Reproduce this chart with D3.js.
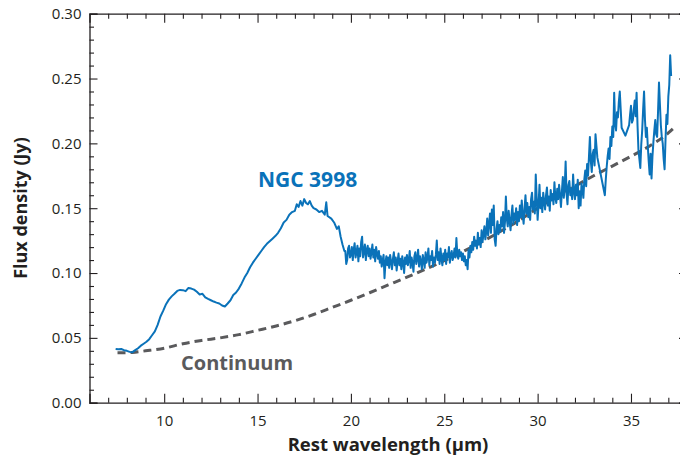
<!DOCTYPE html>
<html>
<head>
<meta charset="utf-8">
<script src="https://cdn.jsdelivr.net/npm/d3@7"></script>
<style>
  body { margin: 0; background: #fff; }
  svg { display: block; font-family: "Open Sans", sans-serif; }
</style>
</head>
<body>
<svg></svg>
<script>
// spectrum of NGC 3998 (wavelength in um, flux in Jy)
let specWl = [
  7.40, 7.55, 7.70, 7.85, 8.00, 8.15, 8.30, 8.45, 8.60, 8.75, 8.90, 9.05, 9.20, 9.35, 9.50, 9.65, 9.80, 9.95,
  10.10, 10.25, 10.40, 10.55, 10.70, 10.85, 11.00, 11.15, 11.30, 11.45, 11.60, 11.75, 11.90, 12.05, 12.20, 12.35,
  12.50, 12.65, 12.80, 12.95, 13.10, 13.25, 13.40, 13.55, 13.70, 13.85, 14.00, 14.15, 14.30, 14.45, 14.60, 14.75,
  14.90, 15.05, 15.20, 15.35, 15.50, 15.65, 15.80, 15.95, 16.10, 16.25, 16.40, 16.55, 16.70, 16.85, 17.00, 17.10,
  17.20, 17.30, 17.40, 17.50, 17.60, 17.70, 17.80, 17.90, 18.00, 18.15, 18.30, 18.45, 18.60, 18.68, 18.75, 18.95,
  19.10, 19.25, 19.35, 19.45, 19.55, 19.65,
  19.70, 19.75, 19.80, 19.85, 19.90, 19.95,
  20.00, 20.05, 20.10, 20.15, 20.20, 20.25, 20.30, 20.35, 20.40, 20.45, 20.50, 20.55, 20.60, 20.65, 20.70, 20.75, 20.80, 20.85, 20.90, 20.95,
  21.00, 21.05, 21.10, 21.15, 21.20, 21.25, 21.30, 21.35, 21.40, 21.45, 21.50, 21.55, 21.60, 21.65, 21.70, 21.75, 21.80, 21.85, 21.90, 21.95,
  22.00, 22.05, 22.10, 22.15, 22.20, 22.25, 22.30, 22.35, 22.40, 22.45, 22.50, 22.55, 22.60, 22.65, 22.70, 22.75, 22.80, 22.85, 22.90, 22.95,
  23.00, 23.05, 23.10, 23.15, 23.20, 23.25, 23.30, 23.35, 23.40, 23.45, 23.50, 23.55, 23.60, 23.65, 23.70, 23.75, 23.80, 23.85, 23.90, 23.95,
  24.00, 24.05, 24.10, 24.15, 24.20, 24.25, 24.30, 24.35, 24.40, 24.45, 24.50, 24.55, 24.60, 24.65, 24.70, 24.75, 24.80, 24.85, 24.90, 24.95,
  25.00, 25.05, 25.10, 25.15, 25.20, 25.25, 25.30, 25.35, 25.40, 25.45, 25.50, 25.55, 25.60, 25.65, 25.70, 25.75, 25.80, 25.85, 25.90, 25.95,
  26.00, 26.05, 26.10, 26.15, 26.20, 26.25, 26.30, 26.35, 26.40, 26.45, 26.50, 26.55, 26.60, 26.65, 26.70, 26.75, 26.80, 26.85, 26.90, 26.95,
  27.00, 27.05, 27.10, 27.15, 27.20, 27.25, 27.30, 27.35, 27.40, 27.45, 27.50, 27.55, 27.60, 27.65, 27.70, 27.75, 27.80, 27.85, 27.90, 27.95,
  28.00, 28.05, 28.10, 28.15, 28.20, 28.25, 28.30, 28.35, 28.40, 28.45, 28.50, 28.55, 28.60, 28.65, 28.70, 28.75, 28.80, 28.85, 28.90, 28.95,
  29.00, 29.05, 29.10, 29.15, 29.20, 29.25, 29.30, 29.35, 29.40, 29.45, 29.50, 29.55, 29.60, 29.65, 29.70, 29.75, 29.80, 29.85, 29.90, 29.95,
  30.00, 30.05, 30.10, 30.15, 30.20, 30.25, 30.30, 30.35, 30.40, 30.45, 30.50, 30.55, 30.60, 30.65, 30.70, 30.75, 30.80, 30.85, 30.90, 30.95,
  31.00, 31.05, 31.10, 31.15, 31.20, 31.25, 31.30, 31.35, 31.40, 31.45, 31.50, 31.55, 31.60, 31.65, 31.70, 31.75, 31.80, 31.85, 31.90, 31.95,
  32.00, 32.05, 32.10, 32.15, 32.20, 32.25, 32.30, 32.35, 32.40, 32.45, 32.50, 32.55, 32.60, 32.65, 32.70, 32.75, 32.80, 32.85, 32.90, 32.95,
  33.00, 33.05, 33.10, 33.15, 33.20,
  33.60, 33.65, 33.70, 33.75, 33.80, 33.85, 33.90, 33.95, 34.00, 34.05, 34.10, 34.15, 34.20, 34.25, 34.30, 34.35, 34.40, 34.45, 34.50, 34.70,
  34.90, 34.95, 35.00, 35.05, 35.10, 35.15, 35.20, 35.25, 35.30, 35.35, 35.40, 35.45, 35.50, 35.55, 35.60, 35.65, 35.70, 35.75, 35.80, 35.85,
  35.90, 35.95, 36.00, 36.05, 36.10, 36.15, 36.20, 36.25, 36.30, 36.35, 36.40, 36.45, 36.50, 36.55, 36.60, 36.65, 36.70, 36.75, 36.80, 36.85,
  36.90, 36.95, 37.00, 37.05, 37.10, 37.15
]
let specFlux = [
  0.0415, 0.0412, 0.0414, 0.0405, 0.0400, 0.0392, 0.0390, 0.0405, 0.0420, 0.0440, 0.0455, 0.0470, 0.0490, 0.0520, 0.0550, 0.0600, 0.0665, 0.0710,
  0.0760, 0.0795, 0.0820, 0.0840, 0.0862, 0.0870, 0.0868, 0.0860, 0.0885, 0.0880, 0.0872, 0.0855, 0.0835, 0.0840, 0.0812, 0.0800,
  0.0790, 0.0780, 0.0772, 0.0765, 0.0750, 0.0742, 0.0765, 0.0790, 0.0830, 0.0850, 0.0880, 0.0920, 0.0965, 0.1000, 0.1045, 0.1080,
  0.1110, 0.1140, 0.1170, 0.1200, 0.1225, 0.1245, 0.1265, 0.1285, 0.1310, 0.1345, 0.1390, 0.1410, 0.1450, 0.1470, 0.1480, 0.1530,
  0.1510, 0.1555, 0.1520, 0.1570, 0.1540, 0.1530, 0.1555, 0.1520, 0.1500, 0.1490, 0.1470, 0.1480, 0.1450, 0.1545, 0.1440, 0.1420,
  0.1390, 0.1340, 0.1360, 0.1280, 0.1220, 0.1170,
  0.117, 0.107, 0.110, 0.119, 0.121, 0.112,
  0.114, 0.120, 0.110, 0.118, 0.123, 0.112, 0.116, 0.121, 0.109, 0.119, 0.113, 0.124, 0.128, 0.112, 0.117, 0.122, 0.110, 0.118, 0.121, 0.113,
  0.119, 0.111, 0.116, 0.122, 0.112, 0.118, 0.109, 0.120, 0.115, 0.111, 0.117, 0.108, 0.113, 0.105, 0.110, 0.114, 0.096, 0.108, 0.113, 0.106,
  0.112, 0.104, 0.114, 0.109, 0.103, 0.111, 0.116, 0.106, 0.112, 0.102, 0.109, 0.115, 0.106, 0.111, 0.103, 0.113, 0.108, 0.100, 0.112, 0.107,
  0.114, 0.106, 0.110, 0.117, 0.104, 0.112, 0.108, 0.101, 0.113, 0.116, 0.107, 0.111, 0.118, 0.105, 0.113, 0.109, 0.103, 0.114, 0.110, 0.104,
  0.116, 0.108, 0.112, 0.119, 0.106, 0.113, 0.110, 0.117, 0.105, 0.112, 0.108, 0.114, 0.125, 0.110, 0.116, 0.107, 0.119, 0.111, 0.106, 0.115,
  0.110, 0.118, 0.107, 0.115, 0.112, 0.120, 0.108, 0.114, 0.117, 0.110, 0.113, 0.119, 0.112, 0.127, 0.114, 0.111, 0.118, 0.113, 0.116, 0.110,
  0.115, 0.109, 0.113, 0.106, 0.110, 0.103, 0.118, 0.112, 0.121, 0.116, 0.124, 0.118, 0.128, 0.121, 0.125, 0.119, 0.131, 0.122, 0.127, 0.120,
  0.133, 0.124, 0.130, 0.136, 0.126, 0.132, 0.142, 0.129, 0.138, 0.146, 0.131, 0.149, 0.137, 0.152, 0.126, 0.121, 0.134, 0.140, 0.130, 0.137,
  0.132, 0.143, 0.136, 0.147, 0.131, 0.139, 0.159, 0.142, 0.136, 0.148, 0.140, 0.133, 0.145, 0.152, 0.138, 0.146, 0.141, 0.150, 0.137, 0.147,
  0.140, 0.152, 0.143, 0.156, 0.145, 0.138, 0.150, 0.160, 0.146, 0.154, 0.143, 0.151, 0.141, 0.157, 0.162, 0.149, 0.155, 0.146, 0.176, 0.158,
  0.141, 0.153, 0.168, 0.150, 0.158, 0.147, 0.162, 0.155, 0.149, 0.160, 0.166, 0.152, 0.159, 0.148, 0.164, 0.156, 0.161, 0.153, 0.170, 0.158,
  0.154, 0.165, 0.157, 0.168, 0.160, 0.151, 0.163, 0.174, 0.158, 0.166, 0.186, 0.161, 0.153, 0.168, 0.171, 0.160, 0.165, 0.157, 0.176, 0.163,
  0.157, 0.168, 0.160, 0.172, 0.150, 0.163, 0.152, 0.169, 0.165, 0.158, 0.172, 0.179, 0.167, 0.184, 0.175, 0.190, 0.205, 0.186, 0.178, 0.192,
  0.195, 0.183, 0.207, 0.198, 0.189,
  0.160, 0.172, 0.182, 0.190, 0.196, 0.188, 0.205, 0.198, 0.213, 0.205, 0.239, 0.215, 0.210, 0.224, 0.220, 0.232, 0.240, 0.226, 0.212, 0.206,
  0.214, 0.222, 0.229, 0.216, 0.218, 0.226, 0.233, 0.221, 0.239, 0.214, 0.195, 0.188, 0.181, 0.199, 0.210, 0.226, 0.240, 0.218, 0.205, 0.212,
  0.198, 0.186, 0.176, 0.192, 0.173, 0.190, 0.201, 0.210, 0.218, 0.207, 0.205, 0.225, 0.247, 0.230, 0.214, 0.205, 0.200, 0.188, 0.180, 0.203,
  0.222, 0.215, 0.236, 0.245, 0.268, 0.252
]

// dashed continuum
let contWl = [7.5, 8.3, 9, 10, 11, 12, 13, 14, 15, 16, 17, 18, 19, 20, 21, 22, 23, 24, 25, 26, 27, 28, 29, 30, 31, 32, 33, 34, 35, 36, 37, 37.3]
let contFlux = [0.0385, 0.0388, 0.0400, 0.0420, 0.0455, 0.0480, 0.0500, 0.0525, 0.0558, 0.0592, 0.0632, 0.0680, 0.0735, 0.0790, 0.0848, 0.0908,
  0.0968, 0.1030, 0.1095, 0.1165, 0.1240, 0.1320, 0.1405, 0.1500, 0.1590, 0.1670, 0.1750, 0.1825, 0.1900, 0.1980, 0.2080, 0.2120]

let xTicks = [10, 15, 20, 25, 30, 35]
let xMinor = [7, 8, 9, 11, 12, 13, 14, 16, 17, 18, 19, 21, 22, 23, 24, 26, 27, 28, 29, 31, 32, 33, 34, 36, 37]
let yTicks = [0, 0.05, 0.10, 0.15, 0.20, 0.25, 0.30]
let yMinor = [0.01, 0.02, 0.03, 0.04, 0.06, 0.07, 0.08, 0.09, 0.11, 0.12, 0.13, 0.14, 0.16, 0.17, 0.18, 0.19,
  0.21, 0.22, 0.23, 0.24, 0.26, 0.27, 0.28, 0.29]

let width = 680
let height = 455
let plotLeft = 89.5
let plotRight = 687
let plotTop = 13.7
let plotBottom = 402.7

let blue = '#0a72b9'
let grey = '#5a5a5c'
let ink = '#231f20'

let svg = d3.select('svg')
  .attr('width', width)
  .attr('height', height)

let xScale = d3.scaleLinear().domain([6, 38]).range([plotLeft, plotRight])
let yScale = d3.scaleLinear().domain([0, 0.30]).range([plotBottom, plotTop])

let drawAxes = () => {
  let g

  // bottom, with labels
  g = svg.append('g').attr('transform', 'translate(0,' + plotBottom + ')')
    .call(d3.axisBottom(xScale).tickValues(xTicks).tickSize(-9).tickPadding(13).tickFormat(d3.format('d')))
  g.append('g')
    .call(d3.axisBottom(xScale).tickValues(xMinor).tickSize(-5).tickFormat(''))
    .select('.domain').remove()

  // top
  g = svg.append('g').attr('transform', 'translate(0,' + plotTop + ')')
    .call(d3.axisTop(xScale).tickValues(xTicks).tickSize(-9).tickFormat(''))
  g.append('g')
    .call(d3.axisTop(xScale).tickValues(xMinor).tickSize(-5).tickFormat(''))
    .select('.domain').remove()

  // left, with labels
  g = svg.append('g').attr('transform', 'translate(' + plotLeft + ',0)')
    .call(d3.axisLeft(yScale).tickValues(yTicks).tickSize(-8).tickPadding(8).tickFormat(d3.format('.2f')))
  g.append('g')
    .call(d3.axisLeft(yScale).tickValues(yMinor).tickSize(-4.5).tickFormat(''))
    .select('.domain').remove()

  // right
  g = svg.append('g').attr('transform', 'translate(' + plotRight + ',0)')
    .call(d3.axisRight(yScale).tickValues(yTicks).tickSize(-8).tickFormat(''))
  g.append('g')
    .call(d3.axisRight(yScale).tickValues(yMinor).tickSize(-4.5).tickFormat(''))
    .select('.domain').remove()

  svg.selectAll('.domain').attr('stroke', ink).attr('stroke-width', 1.3)
  svg.selectAll('.tick line').attr('stroke', ink).attr('stroke-width', 1.1)
  svg.selectAll('.tick text')
    .attr('fill', ink)
    .style('font-family', '"Open Sans", sans-serif')
    .style('font-size', '15px')
}

let drawLines = () => {
  let line = d3.line()
    .x(d => xScale(d[0]))
    .y(d => yScale(d[1]))

  svg.append('path')
    .datum(d3.zip(contWl, contFlux))
    .attr('fill', 'none')
    .attr('stroke', grey)
    .attr('stroke-width', 3)
    .attr('stroke-dasharray', '8,5')
    .attr('d', line.curve(d3.curveMonotoneX))

  svg.append('path')
    .datum(d3.zip(specWl, specFlux))
    .attr('fill', 'none')
    .attr('stroke', blue)
    .attr('stroke-width', 2)
    .attr('stroke-linejoin', 'round')
    .attr('d', line.curve(d3.curveLinear))
}

let drawLabels = () => {
  svg.append('text')
    .attr('x', 258)
    .attr('y', 187)
    .attr('fill', blue)
    .style('font-size', '21px')
    .style('font-weight', 700)
    .text('NGC 3998')

  svg.append('text')
    .attr('x', 181)
    .attr('y', 369.5)
    .attr('fill', grey)
    .style('font-size', '20px')
    .style('font-weight', 700)
    .text('Continuum')

  svg.append('text')
    .attr('x', 388)
    .attr('y', 451)
    .attr('text-anchor', 'middle')
    .attr('fill', ink)
    .style('font-size', '18.5px')
    .style('font-weight', 700)
    .text('Rest wavelength (μm)')

  svg.append('text')
    .attr('transform', 'translate(27,208) rotate(-90)')
    .attr('text-anchor', 'middle')
    .attr('fill', ink)
    .style('font-size', '18px')
    .style('font-weight', 700)
    .text('Flux density (Jy)')
}

drawAxes()
drawLines()
drawLabels()
</script>
</body>
</html>
